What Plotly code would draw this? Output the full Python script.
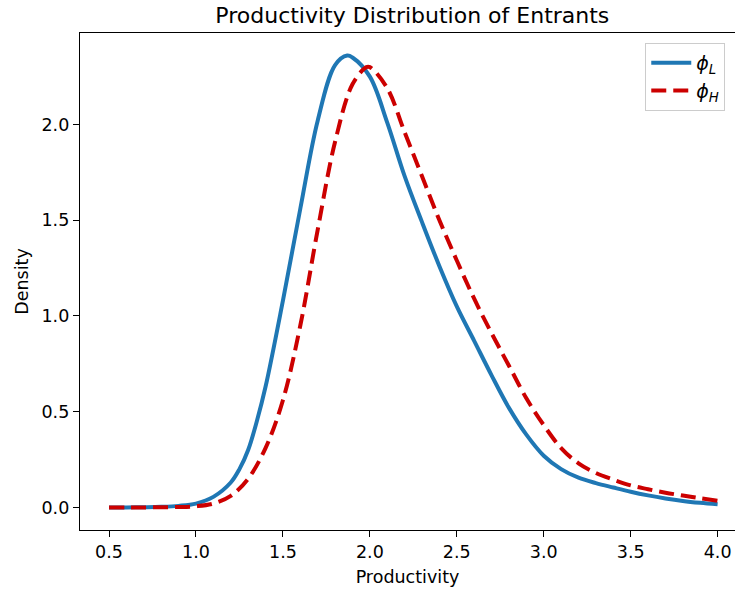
import plotly.graph_objects as go

x_L = [0.5, 0.6, 0.7, 0.8, 0.9, 1.0, 1.1, 1.2, 1.25, 1.3, 1.35, 1.4, 1.5, 1.6, 1.7, 1.8, 1.87,
       1.9, 2.0, 2.1, 2.2, 2.3, 2.4, 2.5, 2.6, 2.7, 2.8, 2.9, 3.0, 3.1, 3.2, 3.3, 3.4, 3.5,
       3.6, 3.7, 3.8, 3.9, 4.0]
phi_L = [0.0, 0.0, 0.001, 0.003, 0.008, 0.02, 0.055, 0.13, 0.2, 0.3, 0.45, 0.63, 1.08, 1.56,
         2.02, 2.31, 2.36, 2.35, 2.25, 2.01, 1.73, 1.49, 1.26, 1.05, 0.87, 0.69, 0.52, 0.38,
         0.27, 0.20, 0.155, 0.127, 0.104, 0.082, 0.063, 0.047, 0.034, 0.024, 0.016]

x_H = [0.5, 0.6, 0.7, 0.8, 0.9, 1.0, 1.1, 1.2, 1.3, 1.4, 1.5, 1.6, 1.7, 1.8, 1.9, 1.98, 2.0,
       2.1, 2.2, 2.3, 2.4, 2.5, 2.6, 2.7, 2.8, 2.9, 3.0, 3.1, 3.2, 3.3, 3.4, 3.5, 3.6, 3.7,
       3.8, 3.9, 4.0]
phi_H = [0.0, 0.0, 0.0, 0.001, 0.002, 0.006, 0.02, 0.06, 0.15, 0.31, 0.56, 0.95, 1.45, 1.91,
         2.21, 2.30, 2.30, 2.19, 1.96, 1.73, 1.50, 1.29, 1.09, 0.91, 0.74, 0.57, 0.43, 0.31,
         0.23, 0.18, 0.145, 0.115, 0.095, 0.077, 0.062, 0.048, 0.035]

x_ticks = [0.5, 1.0, 1.5, 2.0, 2.5, 3.0, 3.5, 4.0]
y_ticks = [0.0, 0.5, 1.0, 1.5, 2.0]

fig = go.Figure()
fig.add_trace(go.Scatter(x=x_L, y=phi_L, mode="lines", line_shape="spline",
                         name="<i>ϕ</i><sub><i>L</i></sub>",
                         line=dict(color="#1f77b4", width=4)))
fig.add_trace(go.Scatter(x=x_H, y=phi_H, mode="lines", line_shape="spline",
                         name="<i>ϕ</i><sub><i>H</i></sub>",
                         line=dict(color="#cc0000", width=4, dash="15px,7px")))

font = "DejaVu Sans"
fig.update_layout(
    width=735, height=591,
    margin=dict(l=80, r=0, t=33, b=61),
    paper_bgcolor="white", plot_bgcolor="white",
    font=dict(family=font, size=17.5, color="black"),
    title=dict(text="Productivity Distribution of Entrants", x=0.561, xanchor="center",
               y=0.974, yanchor="middle", font=dict(size=22, family=font)),
    xaxis=dict(range=[0.333, 4.10], tickvals=x_ticks, ticktext=[f"{v:.1f}" for v in x_ticks],
               showgrid=False, zeroline=False, showline=True, linecolor="black", linewidth=1.4,
               mirror=True, ticks="outside", ticklen=6, tickcolor="black", tickwidth=1.4,
               tickfont=dict(size=17.5),
               title=dict(text="Productivity", standoff=9, font=dict(size=17.5))),
    yaxis=dict(range=[-0.118, 2.478], tickvals=y_ticks, ticktext=[f"{v:.1f}" for v in y_ticks],
               showgrid=False, zeroline=False, showline=True, linecolor="black", linewidth=1.4,
               mirror=False, ticks="outside", ticklen=6, tickcolor="black", tickwidth=1.4,
               tickfont=dict(size=17.5),
               title=dict(text="Density", standoff=8, font=dict(size=17.5))),
    legend=dict(x=0.863, y=0.98, xanchor="left", yanchor="top", bgcolor="white",
                bordercolor="#cccccc", borderwidth=1, font=dict(size=19),
                itemwidth=40),
    showlegend=True,
)

fig.write_html("out.html")
